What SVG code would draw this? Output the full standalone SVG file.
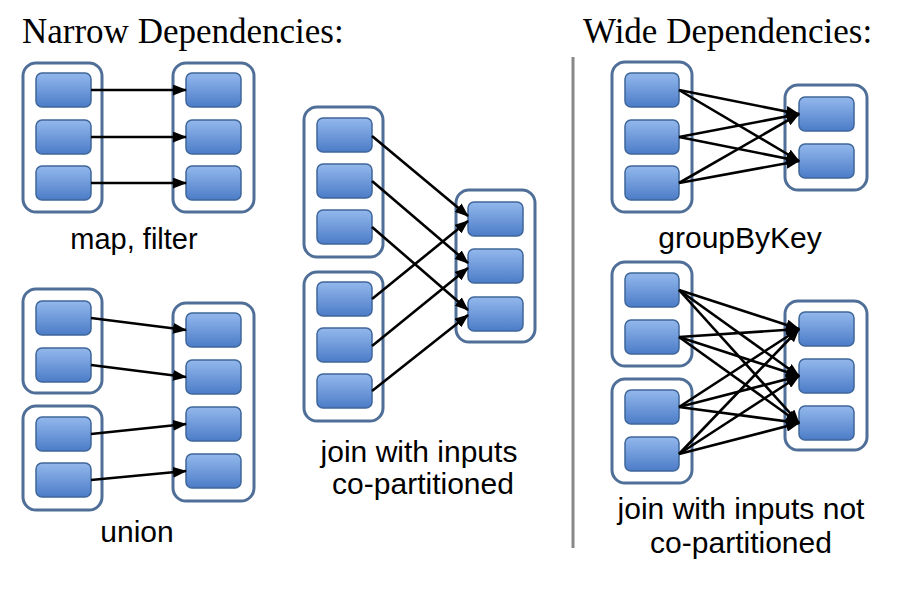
<svg xmlns="http://www.w3.org/2000/svg" width="898" height="598" viewBox="0 0 898 598">
<defs>
<linearGradient id="pg" x1="0" y1="0" x2="0" y2="1">
<stop offset="0" stop-color="#93b8ec"/>
<stop offset="1" stop-color="#4c7cc8"/>
</linearGradient>
<marker id="ah" markerUnits="userSpaceOnUse" markerWidth="14" markerHeight="11" refX="13" refY="5.5" orient="auto">
<path d="M0,0 L14,5.5 L0,11 z" fill="#000"/>
</marker>
</defs>
<style>
.c{fill:#fff;stroke:#4f6f98;stroke-width:3}
.p{fill:url(#pg);stroke:#3f6699;stroke-width:1.5}
.a{stroke:#000;stroke-width:2.6;fill:none;marker-end:url(#ah)}
.t{font-family:"Liberation Serif","Times New Roman",serif;font-size:35px;fill:#000}
.l{font-family:"Liberation Sans",Arial,sans-serif;font-size:30px;fill:#000;text-anchor:middle}
</style>
<rect width="898" height="598" fill="#fff"/>
<text class="t" x="22" y="43">Narrow Dependencies:</text>
<text class="t" x="583" y="43">Wide Dependencies:</text>
<line x1="573" y1="57" x2="573" y2="548" stroke="#888" stroke-width="3"/>

<g id="map-left">
<rect class="c" x="23" y="63" width="79" height="149" rx="13"/>
<rect class="p" x="36" y="73" width="55" height="34" rx="6"/>
<rect class="p" x="36" y="120" width="55" height="34" rx="6"/>
<rect class="p" x="36" y="166" width="55" height="34" rx="6"/>
</g>
<g id="map-right">
<rect class="c" x="173" y="63" width="81" height="149" rx="13"/>
<rect class="p" x="186" y="73" width="55" height="34" rx="6"/>
<rect class="p" x="186" y="120" width="55" height="34" rx="6"/>
<rect class="p" x="186" y="166" width="55" height="34" rx="6"/>
</g>
<text class="l" x="134" y="249" style="font-size:29px">map, filter</text>

<g id="union-left1">
<rect class="c" x="23" y="289" width="79" height="104" rx="13"/>
<rect class="p" x="36" y="301" width="55" height="34" rx="6"/>
<rect class="p" x="36" y="348" width="55" height="34" rx="6"/>
</g>
<g id="union-left2">
<rect class="c" x="23" y="406" width="79" height="104" rx="13"/>
<rect class="p" x="36" y="417" width="55" height="34" rx="6"/>
<rect class="p" x="36" y="463" width="55" height="34" rx="6"/>
</g>
<g id="union-right">
<rect class="c" x="173" y="303" width="81" height="198" rx="13"/>
<rect class="p" x="186" y="313" width="55" height="34" rx="6"/>
<rect class="p" x="186" y="360" width="55" height="34" rx="6"/>
<rect class="p" x="186" y="407" width="55" height="34" rx="6"/>
<rect class="p" x="186" y="454" width="55" height="34" rx="6"/>
</g>
<text class="l" x="137" y="542">union</text>

<g id="cojoin-left1">
<rect class="c" x="304" y="107" width="79" height="150" rx="13"/>
<rect class="p" x="317" y="118" width="55" height="34" rx="6"/>
<rect class="p" x="317" y="164" width="55" height="34" rx="6"/>
<rect class="p" x="317" y="210" width="55" height="34" rx="6"/>
</g>
<g id="cojoin-left2">
<rect class="c" x="304" y="272" width="79" height="149" rx="13"/>
<rect class="p" x="317" y="282" width="55" height="34" rx="6"/>
<rect class="p" x="317" y="328" width="55" height="34" rx="6"/>
<rect class="p" x="317" y="374" width="55" height="34" rx="6"/>
</g>
<g id="cojoin-right">
<rect class="c" x="456" y="190" width="79" height="152" rx="13"/>
<rect class="p" x="468" y="202" width="55" height="34" rx="6"/>
<rect class="p" x="468" y="249" width="55" height="34" rx="6"/>
<rect class="p" x="468" y="297" width="55" height="34" rx="6"/>
</g>
<text class="l" x="419" y="462">join with inputs</text>
<text class="l" x="423" y="494">co-partitioned</text>

<g id="group-left">
<rect class="c" x="612" y="62" width="80" height="150" rx="13"/>
<rect class="p" x="625" y="73" width="54" height="34" rx="6"/>
<rect class="p" x="625" y="120" width="54" height="34" rx="6"/>
<rect class="p" x="625" y="166" width="54" height="34" rx="6"/>
</g>
<g id="group-right">
<rect class="c" x="785" y="85" width="82" height="105" rx="13"/>
<rect class="p" x="799" y="97" width="55" height="34" rx="6"/>
<rect class="p" x="799" y="144" width="55" height="34" rx="6"/>
</g>
<text class="l" x="740" y="248">groupByKey</text>

<g id="ncjoin-left1">
<rect class="c" x="612" y="262" width="80" height="104" rx="13"/>
<rect class="p" x="625" y="273" width="54" height="34" rx="6"/>
<rect class="p" x="625" y="320" width="54" height="34" rx="6"/>
</g>
<g id="ncjoin-left2">
<rect class="c" x="612" y="379" width="80" height="104" rx="13"/>
<rect class="p" x="625" y="390" width="54" height="34" rx="6"/>
<rect class="p" x="625" y="437" width="54" height="34" rx="6"/>
</g>
<g id="ncjoin-right">
<rect class="c" x="785" y="301" width="82" height="149" rx="13"/>
<rect class="p" x="799" y="312" width="55" height="34" rx="6"/>
<rect class="p" x="799" y="359" width="55" height="34" rx="6"/>
<rect class="p" x="799" y="406" width="55" height="34" rx="6"/>
</g>
<text class="l" x="741" y="519">join with inputs not</text>
<text class="l" x="741" y="553">co-partitioned</text>

<g id="connectors">
<line class="a" x1="91" y1="90" x2="186" y2="90"/>
<line class="a" x1="91" y1="137" x2="186" y2="137"/>
<line class="a" x1="91" y1="183" x2="186" y2="183"/>

<line class="a" x1="91" y1="318" x2="186" y2="330"/>
<line class="a" x1="91" y1="365" x2="186" y2="377"/>
<line class="a" x1="91" y1="434" x2="186" y2="424"/>
<line class="a" x1="91" y1="480" x2="186" y2="471"/>

<line class="a" x1="372" y1="136" x2="468" y2="216"/>
<line class="a" x1="372" y1="181" x2="468" y2="263"/>
<line class="a" x1="372" y1="227" x2="468" y2="310"/>
<line class="a" x1="372" y1="299" x2="468" y2="221"/>
<line class="a" x1="372" y1="346" x2="468" y2="268"/>
<line class="a" x1="372" y1="391" x2="468" y2="315"/>

<line class="a" x1="679" y1="90" x2="799" y2="114"/>
<line class="a" x1="679" y1="90" x2="799" y2="161"/>
<line class="a" x1="679" y1="137" x2="799" y2="114"/>
<line class="a" x1="679" y1="137" x2="799" y2="161"/>
<line class="a" x1="679" y1="183" x2="799" y2="114"/>
<line class="a" x1="679" y1="183" x2="799" y2="161"/>

<line class="a" x1="679" y1="290" x2="799" y2="329"/>
<line class="a" x1="679" y1="290" x2="799" y2="376"/>
<line class="a" x1="679" y1="290" x2="799" y2="423"/>
<line class="a" x1="679" y1="337" x2="799" y2="329"/>
<line class="a" x1="679" y1="337" x2="799" y2="376"/>
<line class="a" x1="679" y1="337" x2="799" y2="423"/>
<line class="a" x1="679" y1="407" x2="799" y2="329"/>
<line class="a" x1="679" y1="407" x2="799" y2="376"/>
<line class="a" x1="679" y1="407" x2="799" y2="423"/>
<line class="a" x1="679" y1="454" x2="799" y2="329"/>
<line class="a" x1="679" y1="454" x2="799" y2="376"/>
<line class="a" x1="679" y1="454" x2="799" y2="423"/>
</g>
</svg>
